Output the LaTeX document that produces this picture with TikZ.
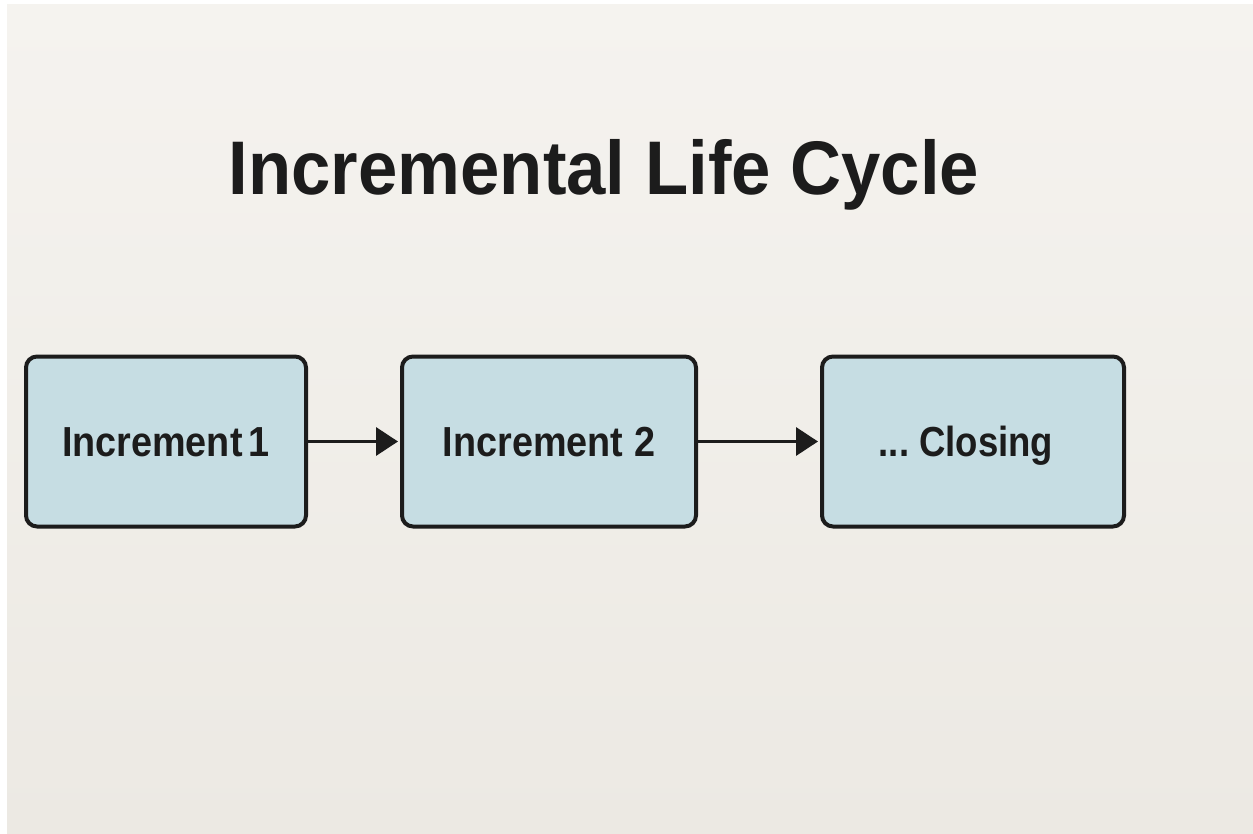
\documentclass[tikz,border=0pt]{standalone}
\usepackage{graphicx}
\usepackage{fontspec}
\setmainfont{Liberation Sans}
\usetikzlibrary{arrows.meta}
\definecolor{paperlight}{HTML}{F5F3EF}
\definecolor{paperdark}{HTML}{ECE9E3}
\definecolor{boxfill}{HTML}{C6DDE3}
\definecolor{ink}{HTML}{1C1C1C}
\newcommand{\narrow}[2]{\scalebox{#1}[1]{#2}}
\tikzset{
  stage/.style={draw=ink, line width=4pt, fill=boxfill, rounded corners=11pt,
    minimum height=170pt, inner sep=0pt, text height=32pt, text depth=3pt,
    font=\fontsize{42}{46}\selectfont\bfseries, text=ink},
  flow/.style={draw=ink, line width=3.5pt, -{Triangle[length=22pt,width=28pt]}, shorten >=2pt}
}
\begin{document}
\begin{tikzpicture}[x=1pt,y=-1pt]
  % page and paper sheet
  \fill[white] (0,0) rectangle (1253,834);
  \shade[top color=paperlight, bottom color=paperdark] (7,5) rectangle (1253,834);
  \useasboundingbox (0,0) rectangle (1253,834);
  % heading
  \node[font=\fontsize{76}{80}\selectfont\bfseries, text=ink, anchor=base] (title) at (604,195) {\narrow{0.93}{Incremental Life Cycle}};
  % stages
  \node[stage, minimum width=280pt] (inc1) at (166,441.5) {\narrow{0.9}{Increment\,1}};
  \node[stage, minimum width=294pt] (inc2) at (549,441.5) {\narrow{0.9}{Increment 2}};
  \node[stage, minimum width=302pt] (close) at (973,441.5) {\narrow{0.87}{...\ Closing}\hspace*{14pt}};
  % connectors
  \draw[flow] (inc1.east) -- (inc2.west);
  \draw[flow] (inc2.east) -- (close.west);
\end{tikzpicture}
\end{document}
